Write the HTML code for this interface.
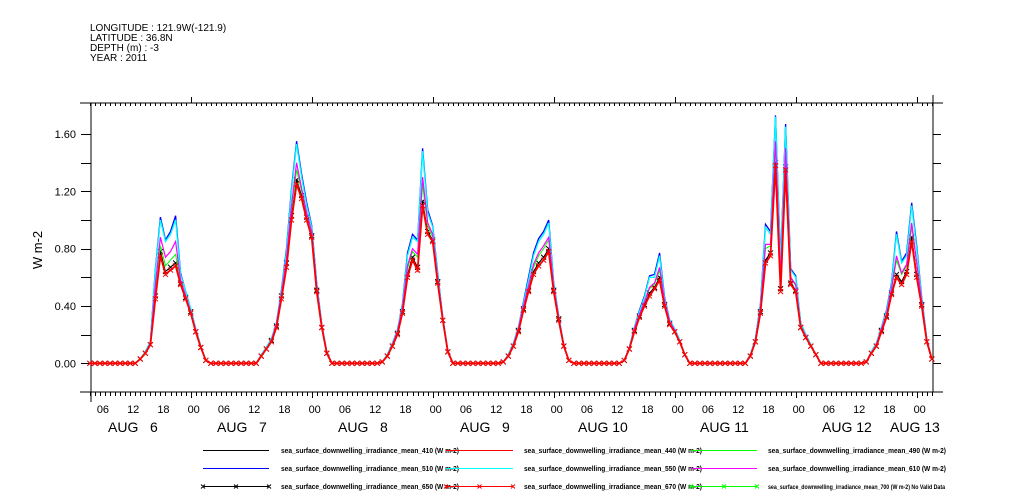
<!DOCTYPE html>
<html><head><meta charset="utf-8"><style>
body{margin:0;background:#fff;}
svg{display:block;font-family:"Liberation Sans",sans-serif;}
</style></head><body>
<svg id="chart" width="1009" height="504" xmlns="http://www.w3.org/2000/svg">
<g font-size="10" fill="#000">
<text x="90" y="31">LONGITUDE : 121.9W(-121.9)</text>
<text x="90" y="41">LATITUDE : 36.8N</text>
<text x="90" y="51">DEPTH (m) : -3</text>
<text x="90" y="61">YEAR : 2011</text>
</g>
<text font-size="13" text-anchor="middle" transform="translate(42,250) rotate(-90)">W m-2</text>
<g id="axes"></g>
<g id="series"></g>
<g id="legend"></g>
</svg>
<script>
// Hourly values, hour 4 (Aug 6 04:00) through hour 171 (Aug 13 03:00)
const startHour = 4;
const redVals = [0,0,0,0,0,0,0,0,0,
0,0.03,0.07,0.13,0.45,0.75,0.62,0.65,0.68,0.55,0.45,0.35,0.22,0.11,0.02,
0,0,0,0,0,0,0,0,0,0,
0.05,0.1,0.15,0.25,0.45,0.67,1.0,1.25,1.15,1.0,0.88,0.5,0.25,0.07,
0,0,0,0,0,0,0,0,0,0,
0.01,0.05,0.12,0.2,0.35,0.6,0.72,0.65,1.1,0.9,0.85,0.56,0.3,0.08,
0,0,0,0,0,0,0,0,0,0,
0.01,0.05,0.12,0.22,0.37,0.5,0.62,0.68,0.72,0.78,0.5,0.3,0.12,0.02,
0,0,0,0,0,0,0,0,0,0,
0.02,0.1,0.22,0.32,0.4,0.47,0.52,0.58,0.4,0.27,0.22,0.15,0.06,
0,0,0,0,0,0,0,0,0,0,0,0,
0.05,0.15,0.35,0.7,0.75,1.38,0.5,1.35,0.55,0.5,0.25,0.18,0.12,0.06,
0,0,0,0,0,0,0,0,0,
0.01,0.07,0.12,0.22,0.32,0.48,0.6,0.55,0.62,0.85,0.6,0.4,0.15,0.03];
const blackVals = [0,0,0,0,0,0,0,0,0,
0,0.03,0.07,0.13,0.47,0.78,0.64,0.67,0.7,0.56,0.46,0.36,0.22,0.11,0.02,
0,0,0,0,0,0,0,0,0,0,
0.05,0.1,0.16,0.26,0.47,0.7,1.03,1.28,1.17,1.02,0.89,0.51,0.25,0.07,
0,0,0,0,0,0,0,0,0,0,
0.01,0.05,0.12,0.21,0.36,0.62,0.74,0.67,1.13,0.92,0.86,0.57,0.3,0.08,
0,0,0,0,0,0,0,0,0,0,
0.01,0.05,0.12,0.23,0.38,0.51,0.64,0.7,0.74,0.8,0.51,0.31,0.12,0.02,
0,0,0,0,0,0,0,0,0,0,
0.02,0.1,0.23,0.33,0.41,0.49,0.53,0.6,0.41,0.28,0.22,0.15,0.06,
0,0,0,0,0,0,0,0,0,0,0,0,
0.05,0.15,0.36,0.72,0.77,1.4,0.52,1.37,0.56,0.51,0.25,0.18,0.12,0.06,
0,0,0,0,0,0,0,0,0,
0.01,0.07,0.12,0.23,0.33,0.49,0.62,0.57,0.64,0.88,0.62,0.41,0.15,0.03];
const greenVals = [0,0,0,0,0,0,0,0,0,
0,0.03,0.07,0.14,0.5,0.82,0.68,0.72,0.76,0.57,0.47,0.36,0.23,0.11,0.02,
0,0,0,0,0,0,0,0,0,0,
0.05,0.1,0.16,0.26,0.47,0.72,1.08,1.35,1.2,1.04,0.9,0.52,0.26,0.07,
0,0,0,0,0,0,0,0,0,0,
0.01,0.05,0.13,0.21,0.37,0.66,0.78,0.74,1.25,0.96,0.88,0.58,0.31,0.08,
0,0,0,0,0,0,0,0,0,0,
0.01,0.05,0.13,0.23,0.39,0.53,0.67,0.75,0.8,0.86,0.52,0.31,0.12,0.02,
0,0,0,0,0,0,0,0,0,0,
0.02,0.1,0.23,0.34,0.43,0.52,0.55,0.65,0.42,0.28,0.23,0.15,0.06,
0,0,0,0,0,0,0,0,0,0,0,0,
0.05,0.16,0.37,0.8,0.82,1.52,0.58,1.48,0.6,0.54,0.26,0.19,0.12,0.06,
0,0,0,0,0,0,0,0,0,
0.01,0.07,0.13,0.23,0.34,0.51,0.72,0.62,0.68,0.95,0.7,0.42,0.16,0.03];
const blueVals = [0,0,0,0,0,0,0,0,0,
0,0.03,0.08,0.15,0.66,1.02,0.86,0.92,1.03,0.63,0.5,0.38,0.24,0.12,0.02,
0,0,0,0,0,0,0,0,0,0,
0.06,0.11,0.17,0.28,0.51,0.8,1.22,1.55,1.32,1.12,0.96,0.56,0.27,0.08,
0,0,0,0,0,0,0,0,0,0,
0.01,0.06,0.14,0.23,0.41,0.77,0.9,0.86,1.5,1.07,0.96,0.63,0.32,0.09,
0,0,0,0,0,0,0,0,0,0,
0.01,0.06,0.14,0.25,0.43,0.6,0.77,0.87,0.92,1.0,0.56,0.33,0.13,0.02,
0,0,0,0,0,0,0,0,0,0,
0.02,0.11,0.25,0.37,0.47,0.61,0.62,0.77,0.46,0.3,0.24,0.16,0.06,
0,0,0,0,0,0,0,0,0,0,0,0,
0.06,0.17,0.41,0.97,0.92,1.73,0.71,1.67,0.66,0.61,0.28,0.2,0.13,0.06,
0,0,0,0,0,0,0,0,0,
0.01,0.08,0.14,0.25,0.37,0.56,0.92,0.71,0.77,1.12,0.82,0.46,0.17,0.03];
const cyanVals = [0,0,0,0,0,0,0,0,0,
0,0.03,0.08,0.15,0.65,1.0,0.85,0.9,1.0,0.62,0.5,0.38,0.24,0.12,0.02,
0,0,0,0,0,0,0,0,0,0,
0.06,0.11,0.17,0.28,0.5,0.78,1.2,1.53,1.3,1.1,0.95,0.55,0.27,0.08,
0,0,0,0,0,0,0,0,0,0,
0.01,0.06,0.14,0.23,0.4,0.75,0.88,0.85,1.48,1.05,0.95,0.62,0.32,0.09,
0,0,0,0,0,0,0,0,0,0,
0.01,0.06,0.14,0.25,0.42,0.58,0.75,0.85,0.9,0.98,0.55,0.33,0.13,0.02,
0,0,0,0,0,0,0,0,0,0,
0.02,0.11,0.25,0.36,0.46,0.6,0.6,0.75,0.45,0.3,0.24,0.16,0.06,
0,0,0,0,0,0,0,0,0,0,0,0,
0.06,0.17,0.4,0.95,0.9,1.72,0.7,1.65,0.65,0.6,0.28,0.2,0.13,0.06,
0,0,0,0,0,0,0,0,0,
0.01,0.08,0.14,0.25,0.36,0.55,0.9,0.7,0.75,1.1,0.8,0.45,0.17,0.03];
const magentaVals = [0,0,0,0,0,0,0,0,0,
0,0.03,0.07,0.14,0.55,0.88,0.74,0.78,0.85,0.58,0.47,0.36,0.23,0.11,0.02,
0,0,0,0,0,0,0,0,0,0,
0.05,0.1,0.16,0.27,0.48,0.73,1.1,1.4,1.22,1.05,0.92,0.53,0.26,0.07,
0,0,0,0,0,0,0,0,0,0,
0.01,0.05,0.13,0.22,0.38,0.68,0.8,0.76,1.3,0.98,0.9,0.59,0.31,0.08,
0,0,0,0,0,0,0,0,0,0,
0.01,0.05,0.13,0.24,0.4,0.54,0.69,0.77,0.82,0.88,0.53,0.32,0.12,0.02,
0,0,0,0,0,0,0,0,0,0,
0.02,0.1,0.24,0.34,0.43,0.53,0.56,0.67,0.43,0.29,0.23,0.15,0.06,
0,0,0,0,0,0,0,0,0,0,0,0,
0.05,0.16,0.38,0.83,0.83,1.55,0.6,1.5,0.6,0.55,0.26,0.19,0.12,0.06,
0,0,0,0,0,0,0,0,0,
0.01,0.07,0.13,0.24,0.34,0.52,0.75,0.63,0.69,0.98,0.7,0.43,0.16,0.03];
const yTickValues = [0, 0.4, 0.8, 1.2, 1.6];
const yTickLabels = ["0.00", "0.40", "0.80", "1.20", "1.60"];
const hourLabels = ["06","12","18","00"];
const dayLabels = ["6","7","8","9","10","11","12","13"];
const legendLabels = [
 "sea_surface_downwelling_irradiance_mean_410 (W m-2)",
 "sea_surface_downwelling_irradiance_mean_440 (W m-2)",
 "sea_surface_downwelling_irradiance_mean_490 (W m-2)",
 "sea_surface_downwelling_irradiance_mean_510 (W m-2)",
 "sea_surface_downwelling_irradiance_mean_550 (W m-2)",
 "sea_surface_downwelling_irradiance_mean_610 (W m-2)",
 "sea_surface_downwelling_irradiance_mean_650 (W m-2)",
 "sea_surface_downwelling_irradiance_mean_670 (W m-2)",
 "sea_surface_downwelling_irradiance_mean_700 (W m-2) No Valid Data"];

const NS = "http://www.w3.org/2000/svg";
const X0 = 69.7, PXH = 121/24, L = 91, R = 933, T = 103, B = 392;
const Y0 = 363.3, PYV = (363.3-134)/1.6;
function xs(h){ return X0 + h*PXH; }
function ys(v){ return Y0 - v*PYV; }
function mk(tag, attrs, parent){ const e=document.createElementNS(NS,tag); for(const k in attrs) e.setAttribute(k,attrs[k]); parent.appendChild(e); return e; }
const axes = document.getElementById('axes');
// frame
let e;
e = mk('line',{x1:80,y1:T,x2:943,y2:T,stroke:'#000'},axes);


e = mk('line',{x1:80,y1:B,x2:943,y2:B,stroke:'#000'},axes);


e = mk('line',{x1:L,y1:T,x2:L,y2:B+10,stroke:'#000'},axes);


e = mk('line',{x1:R,y1:T-8,x2:R,y2:B,stroke:'#000'},axes);


// x ticks hourly
for(let h=startHour; h<=171; h++){
  const x = Math.round(xs(h))+0.5;
  const major = (h%24===0);
  e = mk('line',{x1:x,y1:B,x2:x,y2:B+(major?6:4),stroke:'#000'},axes);
  
  
  e = mk('line',{x1:x,y1:T,x2:x,y2:T+(major?-6:3),stroke:'#000'},axes);
  
  
  if(h%6===0){
    const t = mk('text',{x:xs(h)+3,y:413,'font-size':11,'text-anchor':'middle'},axes);
    t.textContent = hourLabels[(h/6-1+4)%4];
    
    
  }
}
// day labels
const augX = [108,217,338,460,578,700,822,890];
for(let i=0;i<dayLabels.length;i++){
  const d = dayLabels[i];
  const t = mk('text',{x:augX[i],y:432,'font-size':14},axes);
  t.textContent = d.length===1 ? "AUG\u00a0\u00a0\u00a0"+d : "AUG "+d;
  
  
}
// y ticks
for(let v=0; v<=1.61; v+=0.2){
  const y = Math.round(ys(v))+0.5;
  e = mk('line',{x1:81,y1:y,x2:L,y2:y,stroke:'#000'},axes);
  
  
  e = mk('line',{x1:R,y1:y,x2:R+8,y2:y,stroke:'#000'},axes);
  
  
}
yTickValues.forEach((v,i)=>{
  const t = mk('text',{x:76,y:ys(v)+4,'font-size':11,'text-anchor':'end'},axes);
  t.textContent = yTickLabels[i];
  
  
});
// series
const sg = document.getElementById('series');
function drawSeries(vals,color,name,markers,w){
  const pts = vals.map((v,i)=>xs(startHour+i).toFixed(1)+','+ys(v).toFixed(1)).join(' ');
  const p = mk('polyline',{points:pts,fill:'none',stroke:color,'stroke-width':w},sg);
  
  
  if(markers){
    let d='';
    vals.forEach((v,i)=>{ const x=xs(startHour+i), y=ys(v); d+=`M${x-2.5},${y-2.5}L${x+2.5},${y+2.5}M${x-2.5},${y+2.5}L${x+2.5},${y-2.5}`; });
    const m = mk('path',{d:d,stroke:color,'stroke-width':1,fill:'none'},sg);
    
    
  }
}
drawSeries(blackVals,'#000','series-650',true,1);
drawSeries(greenVals,'#00ff00','series-490',false,1);
drawSeries(blueVals,'#0000ff','series-510',false,1.3);
drawSeries(cyanVals,'#00ffff','series-550',false,1.3);
drawSeries(magentaVals,'#ff00ff','series-610',false,1.2);
drawSeries(redVals,'#ff0000','series-670',true,1.8);
// legend
const lg = document.getElementById('legend');
const legColors = ['#000','#ff0000','#00ff00','#0000ff','#00ffff','#ff00ff','#000','#ff0000','#00ff00'];
const legX = [[203,269,281],[446,513,524],[691,757,768]];
const legY = [450,468,486];
legendLabels.forEach((lab,i)=>{
  const col=i%3,row=Math.floor(i/3);
  const [a,b,tx]=legX[col]; const y=legY[row]+0.5;
  const ln = mk('line',{x1:a,y1:y,x2:b,y2:y,stroke:legColors[i],'stroke-width':1},lg);
  
  
  if(row===2){
    let d='';[a,(a+b)/2,b].forEach(x=>{d+=`M${x-2},${y-2}L${x+2},${y+2}M${x-2},${y+2}L${x+2},${y-2}`;});
    const m = mk('path',{d:d,stroke:legColors[i],fill:'none'},lg);
    
    
  }
  const t = mk('text',{x:tx,y:y+2.5,'font-size':i===8?6:7,'font-weight':'bold',textLength:i===8?177:178,lengthAdjust:'spacingAndGlyphs'},lg);
  t.textContent = lab;
  
  
});
</script>
</body></html>
